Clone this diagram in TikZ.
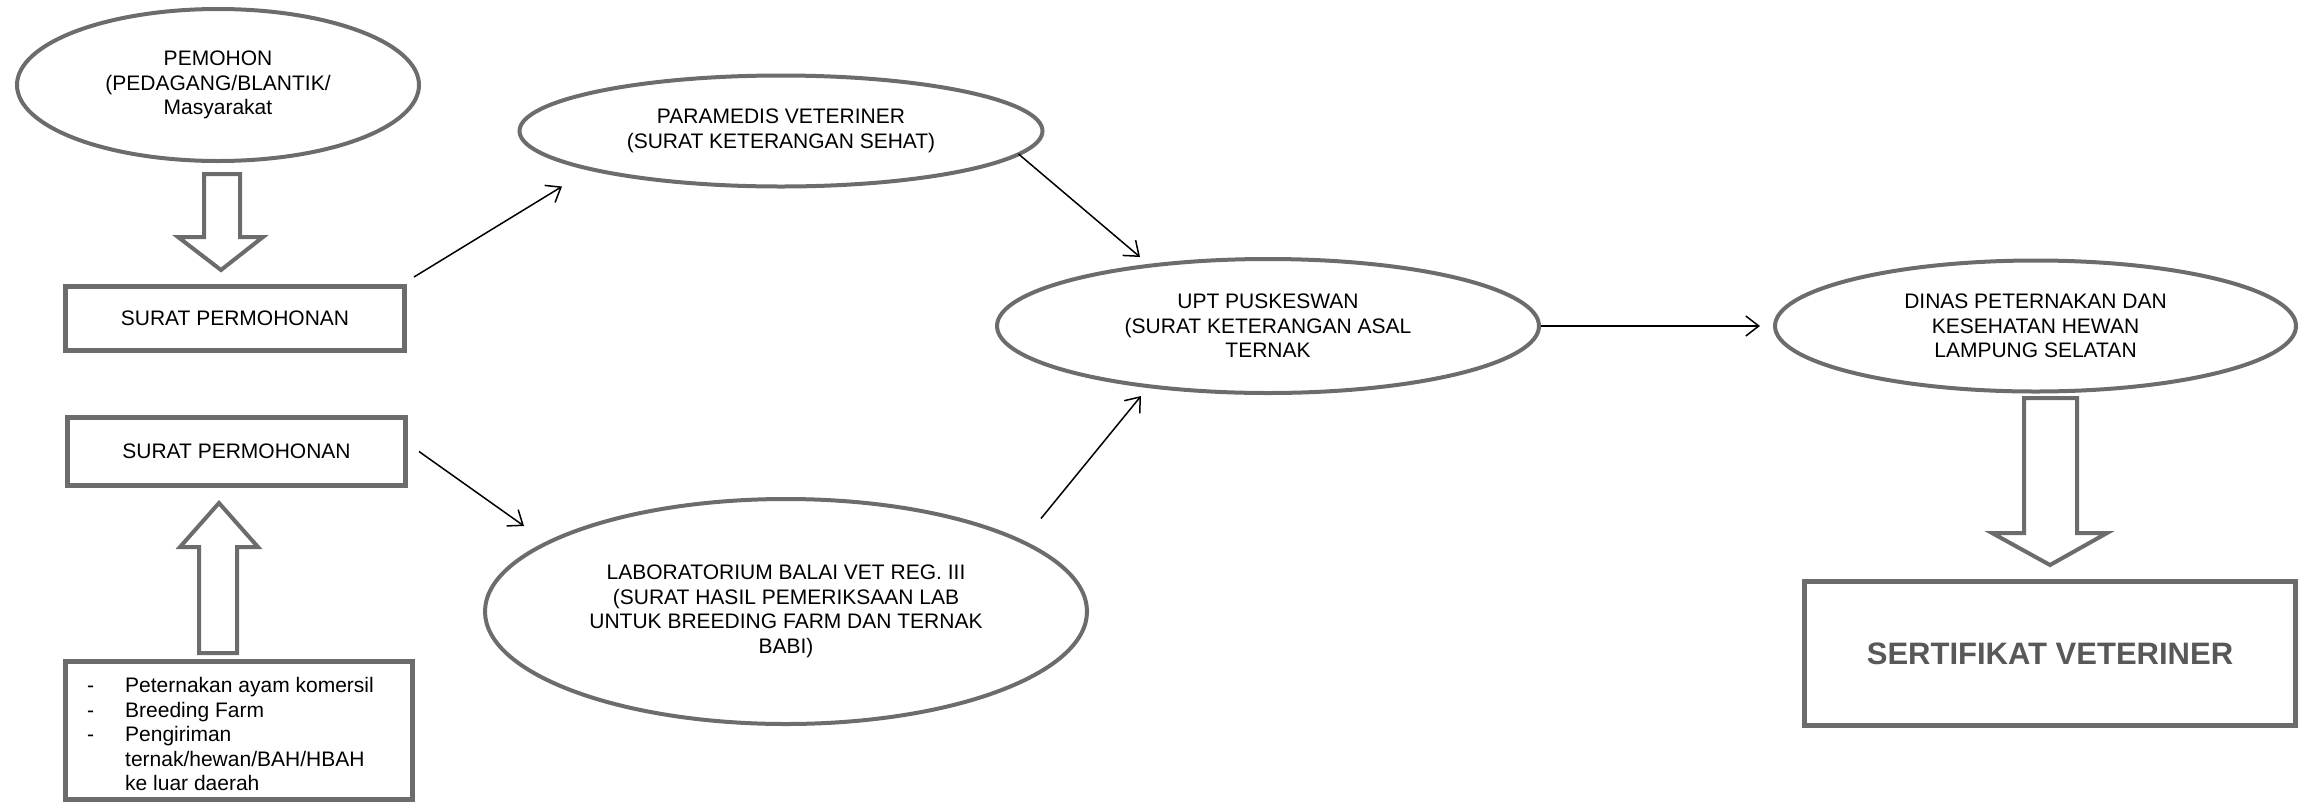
\documentclass[tikz,border=0pt]{standalone}
\usepackage{fontspec}
\setmainfont{Liberation Sans}
\usetikzlibrary{shapes.geometric,arrows.meta,calc}
\definecolor{edgegray}{RGB}{108,108,108}
\definecolor{certgray}{RGB}{88,88,88}
\begin{document}
\begin{tikzpicture}[x=1pt,y=-1pt,
  txt/.style={font=\fontsize{21}{24.5}\selectfont, text=black, align=center},
  oval/.style={ellipse, draw=edgegray, line width=4pt, fill=white, inner sep=0pt, txt},
  box/.style={rectangle, draw=edgegray, line width=5pt, fill=white, inner sep=0pt, txt},
  conn/.style={draw=black, line width=1.5pt, -{Straight Barb[length=13pt,width=20pt]}},
  blockarrow/.style={draw=edgegray, line width=4pt, fill=white, line join=miter}
]
\useasboundingbox (0,0) rectangle (2299,804);

% ellipses
\node[oval, minimum width=402pt, minimum height=152pt] (pem) at (218,85)
  {PEMOHON\\(PEDAGANG/BLANTIK/\\Masyarakat};
\node[oval, minimum width=523pt, minimum height=111pt] (para) at (781,131)
  {PARAMEDIS VETERINER\\(SURAT KETERANGAN SEHAT)};
\node[oval, minimum width=602pt, minimum height=225pt] (lab) at (786,611.5)
  {LABORATORIUM BALAI VET REG. III\\(SURAT HASIL PEMERIKSAAN LAB\\UNTUK BREEDING FARM DAN TERNAK\\BABI)};
\node[oval, minimum width=542pt, minimum height=134pt] (upt) at (1268,326)
  {UPT PUSKESWAN\\(SURAT KETERANGAN ASAL\\TERNAK};
\node[oval, minimum width=521pt, minimum height=131pt] (din) at (2035.5,326)
  {DINAS PETERNAKAN DAN\\KESEHATAN HEWAN\\LAMPUNG SELATAN};

% boxes
\node[box, minimum width=339pt, minimum height=64pt] (b1) at (235,318.5) {SURAT PERMOHONAN};
\node[box, minimum width=338pt, minimum height=68pt] (b2) at (236.5,451.5) {SURAT PERMOHONAN};
\node[box, minimum width=347pt, minimum height=138pt] (b3) at (239,730.5) {};
\node[anchor=base west, inner sep=0pt, font=\fontsize{21}{24.5}\selectfont] (b3text) at (87,692.5)
  {\begin{tabular}[t]{@{}p{38pt}@{}l@{}}
   - & Peternakan ayam komersil\\
   - & Breeding Farm\\
   - & Pengiriman\\
     & ternak/hewan/BAH/HBAH\\
     & ke luar daerah
   \end{tabular}};
\node[box, minimum width=491pt, minimum height=144pt, text=certgray,
      font=\fontsize{31}{36}\selectfont\bfseries] (sert) at (2050,653.5) {SERTIFIKAT VETERINER};

% block arrows
\draw[blockarrow] (204,174) -- (240,174) -- (240,237) -- (263,237) -- (221,270) -- (178,237) -- (204,237) -- cycle;
\draw[blockarrow] (199,653) -- (237,653) -- (237,547) -- (258,547) -- (219,503) -- (180,547) -- (199,547) -- cycle;
\draw[blockarrow] (2024,398) -- (2077,398) -- (2077,533) -- (2107,533) -- (2050,565) -- (1992,533) -- (2024,533) -- cycle;

% connectors
\draw[conn] ($(b1.north east)+(7,-7)$) -- ($(para.south)+(-219,-2)$);
\draw[conn] ($(b2.east)+(11,0)$) -- ($(lab.north)+(-262,29)$);
\draw[conn] ($(para.east)+(-26,23)$) -- ($(upt.north)+(-128,0)$);
\draw[conn] ($(lab.east)+(-48,-93)$) -- ($(upt.south)+(-127,1)$);
\draw[conn, shorten >=13pt] (upt.east) -- (din.west);
\end{tikzpicture}
\end{document}
